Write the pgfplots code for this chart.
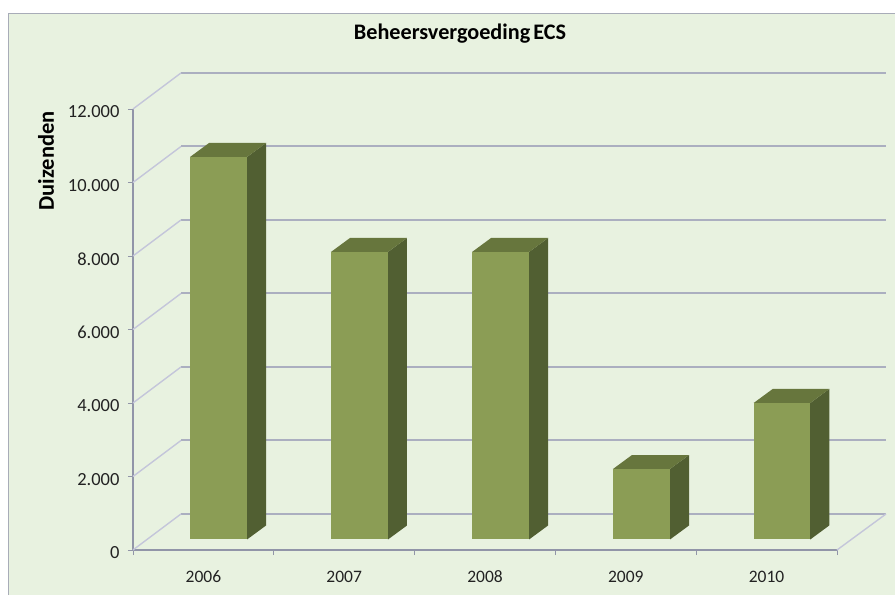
\documentclass[border=0pt]{standalone}
\usepackage{pgfplots}
\pgfplotsset{compat=1.18}
\usepackage{fontspec}
\setmainfont{Carlito}
\definecolor{bgc}{HTML}{E8F2E0}
\definecolor{framec}{HTML}{A8ACB8}
\definecolor{axisc}{HTML}{9195A8}
\definecolor{gridc}{HTML}{ABAFC0}
\definecolor{diagc}{HTML}{C4C6DA}
\definecolor{frontc}{HTML}{8B9D55}
\definecolor{sidec}{HTML}{515F32}
\definecolor{topc}{HTML}{67763D}
\definecolor{textc}{HTML}{222222}
\begin{document}
\begin{tikzpicture}[x=1pt,y=1pt]
% page: 895 x 595, axis origin at pixel (133,550)
\path[use as bounding box] (-133,-45) rectangle (762,550);
\fill[bgc] (-124,-45) rectangle (762,536);
\draw[framec,line width=1pt] (-124,-45) -- (-124,536) -- (762,536);
\begin{axis}[
  at={(0,0)},anchor=south west,
  scale only axis,width=704pt,height=441pt,
  xmin=0,xmax=5,ymin=0,ymax=12000,
  clip=false,
  axis x line*=bottom,axis y line*=left,
  axis line style={draw=axisc,line width=2pt,-},
  xtick={0.5,1.5,2.5,3.5,4.5},
  xticklabels={2006,2007,2008,2009,2010},
  minor xtick={0,1,2,3,4,5},
  major x tick style={draw=none},
  minor x tick style={draw=axisc,line width=0.8pt},
  minor tick length=5pt,
  major tick length=5pt,
  tick align=outside,
  ytick={0,2000,4000,6000,8000,10000,12000},
  major y tick style={draw=axisc,line width=0.8pt},
  scaled y ticks=false,
  /pgf/number format/fixed,
  /pgf/number format/precision=0,
  /pgf/number format/1000 sep={.},
  /pgf/number format/assume math mode=true,
  xticklabel style={font=\fontsize{17.5}{20}\selectfont,text=textc,yshift=-13pt,text height=11pt,text depth=0pt},
  yticklabel style={font=\fontsize{18.5}{20}\selectfont,text=textc,xshift=-5pt,yshift=-3pt},
  title={Beheersvergoeding\hspace{-2pt} ECS},
  title style={at={(axis description cs:0.4645,1.158)},anchor=center,yshift=0pt,font=\fontsize{22.2}{26}\selectfont\bfseries,text=black},
  ylabel={Duizenden},
  ylabel style={at={(axis description cs:-0.1236,0.882)},anchor=center,font=\fontsize{22.5}{26}\selectfont\bfseries,text=black},
]
% back-wall gridlines
\addplot[gridc,line width=2pt,forget plot] coordinates {(0.341,980) (5.348,980)};
\addplot[gridc,line width=2pt,forget plot] coordinates {(0.341,2980) (5.348,2980)};
\addplot[gridc,line width=2pt,forget plot] coordinates {(0.341,4980) (5.348,4980)};
\addplot[gridc,line width=2pt,forget plot] coordinates {(0.341,6980) (5.348,6980)};
\addplot[gridc,line width=2pt,forget plot] coordinates {(0.341,8980) (5.348,8980)};
\addplot[gridc,line width=2pt,forget plot] coordinates {(0.341,10980) (5.348,10980)};
\addplot[gridc,line width=2pt,forget plot] coordinates {(0.341,12980) (5.348,12980)};
% side-wall diagonals
\addplot[diagc,line width=1.4pt,forget plot] coordinates {(0,0) (0.341,980)};
\addplot[diagc,line width=1.4pt,forget plot] coordinates {(0,2000) (0.341,2980)};
\addplot[diagc,line width=1.4pt,forget plot] coordinates {(0,4000) (0.341,4980)};
\addplot[diagc,line width=1.4pt,forget plot] coordinates {(0,6000) (0.341,6980)};
\addplot[diagc,line width=1.4pt,forget plot] coordinates {(0,8000) (0.341,8980)};
\addplot[diagc,line width=1.4pt,forget plot] coordinates {(0,10000) (0.341,10980)};
\addplot[diagc,line width=1.4pt,forget plot] coordinates {(0,12000) (0.341,12980)};
\addplot[diagc,line width=1.4pt,forget plot] coordinates {(5,0) (5.348,980)};
% 2006
\addplot[fill=sidec,draw=none] coordinates {(0.810,286) (0.945,667) (0.945,11075) (0.810,10694)} --cycle;
\addplot[fill=topc,draw=none] coordinates {(0.405,10694) (0.810,10694) (0.945,11075) (0.540,11075)} --cycle;
\addplot[fill=frontc,draw=none] coordinates {(0.405,286) (0.810,286) (0.810,10694) (0.405,10694)} --cycle;
% 2007
\addplot[fill=sidec,draw=none] coordinates {(1.811,286) (1.946,667) (1.946,8490) (1.811,8109)} --cycle;
\addplot[fill=topc,draw=none] coordinates {(1.406,8109) (1.811,8109) (1.946,8490) (1.541,8490)} --cycle;
\addplot[fill=frontc,draw=none] coordinates {(1.406,286) (1.811,286) (1.811,8109) (1.406,8109)} --cycle;
% 2008
\addplot[fill=sidec,draw=none] coordinates {(2.813,286) (2.948,667) (2.948,8490) (2.813,8109)} --cycle;
\addplot[fill=topc,draw=none] coordinates {(2.408,8109) (2.813,8109) (2.948,8490) (2.543,8490)} --cycle;
\addplot[fill=frontc,draw=none] coordinates {(2.408,286) (2.813,286) (2.813,8109) (2.408,8109)} --cycle;
% 2009
\addplot[fill=sidec,draw=none] coordinates {(3.814,286) (3.949,667) (3.949,2585) (3.814,2204)} --cycle;
\addplot[fill=topc,draw=none] coordinates {(3.409,2204) (3.814,2204) (3.949,2585) (3.544,2585)} --cycle;
\addplot[fill=frontc,draw=none] coordinates {(3.409,286) (3.814,286) (3.814,2204) (3.409,2204)} --cycle;
% 2010
\addplot[fill=sidec,draw=none] coordinates {(4.810,286) (4.945,667) (4.945,4381) (4.810,4000)} --cycle;
\addplot[fill=topc,draw=none] coordinates {(4.408,4000) (4.810,4000) (4.945,4381) (4.543,4381)} --cycle;
\addplot[fill=frontc,draw=none] coordinates {(4.408,286) (4.810,286) (4.810,4000) (4.408,4000)} --cycle;
\end{axis}
\end{tikzpicture}
\end{document}
